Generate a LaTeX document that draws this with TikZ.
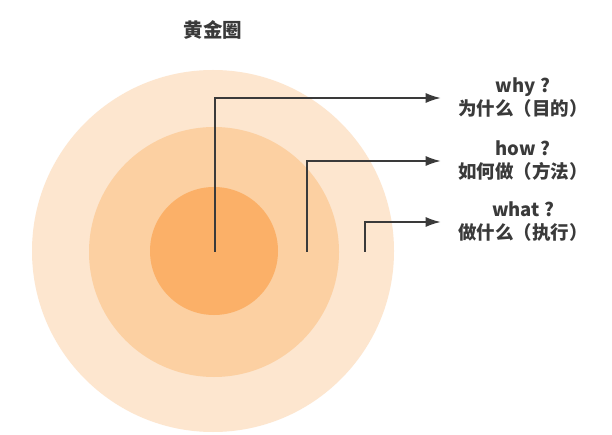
\documentclass[tikz,border=0pt]{standalone}
\usepackage{fontspec}
\newfontfamily\cjk{Noto Sans CJK SC}
\usetikzlibrary{positioning, arrows.meta}
\definecolor{ringOuter}{RGB}{253,230,207}
\definecolor{ringMid}{RGB}{252,208,162}
\definecolor{ringCore}{RGB}{251,176,104}
\definecolor{inkGray}{RGB}{58,58,58}
\tikzset{
	ring/.style={draw=none, circle, inner sep=0pt},
	label/.style={align=center, text=inkGray, font=\cjk\bfseries\fontsize{18.5}{23}\selectfont},
	pointer/.style={draw=inkGray, line width=1.6pt, -{Latex[length=15pt,width=10pt]}, shorten >=14pt}
}
\begin{document}
\begin{tikzpicture}[x=1pt, y=-1pt]
			
			\fill[white] (0,0) rectangle (612,435);
			\useasboundingbox (0,0) rectangle (612,435);
			
			\node (title) at (213,30) [text=inkGray, font=\cjk\bfseries\fontsize{19.5}{22}\selectfont]{黄金圈};
			
			\node (outer) at (213,251) [ring, fill=ringOuter, minimum size=362pt]{};
			\node (middle) at (214,252) [ring, fill=ringMid, minimum size=250pt]{};
			\node (core) at (214,251) [ring, fill=ringCore, minimum size=128pt]{};
			
			\coordinate (cwhy) at (215,252);
			\coordinate (chow) at (307,252);
			\coordinate (cwhat) at (365,252);
			
			\node (why) at (523,98) [label]{why ?\\为什么（目的）};
			\node (how) at (523,161) [label]{how ?\\如何做（方法）};
			\node (what) at (523,222) [label]{what ?\\做什么（执行）};
			
			\draw[pointer] (cwhy) |- (why.west);
			\draw[pointer] (chow) |- (how.west);
			\draw[pointer] (cwhat) |- (what.west);
			
\end{tikzpicture}
\end{document}
